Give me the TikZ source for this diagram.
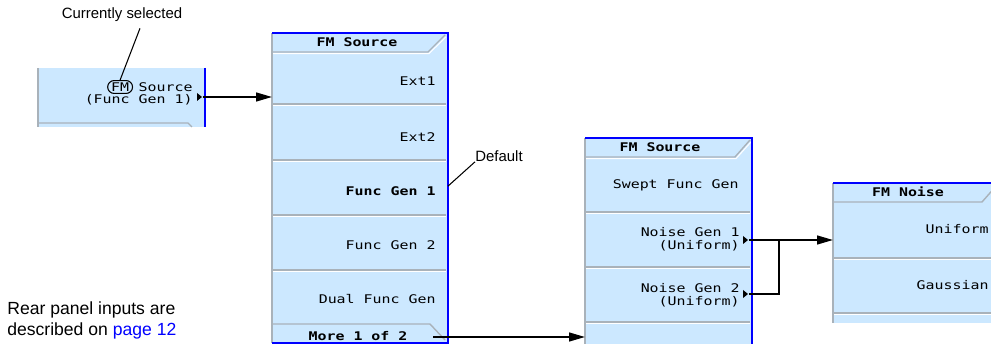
\documentclass[tikz,border=0pt]{standalone}
\usepackage{fontspec}
\setmainfont{Liberation Sans}
\newfontfamily\keyfont[FakeStretch=1.25]{DejaVu Sans Mono}
\usetikzlibrary{arrows.meta,positioning,shapes.misc,fit}
\definecolor{skFill}{HTML}{CCE8FF}
\definecolor{skEdge}{HTML}{0000FF}
\definecolor{skLine}{HTML}{A9B2BA}
\definecolor{skLink}{HTML}{0000FF}
\tikzset{
    % softkey panels
    keypanel/.style={fill=skFill,inner sep=0pt,outer sep=0pt},
    keyedge/.style={draw=skEdge,line width=1.6pt},
    keyrule/.style={draw=skLine,line width=0.8pt},
    keyshine/.style={draw=white,line width=0.6pt},
    keytext/.style={anchor=east,inner sep=0pt,font=\keyfont\fontsize{6.8}{7}\selectfont},
    keytitle/.style={inner sep=0pt,font=\keyfont\bfseries\fontsize{6.8}{7}\selectfont},
    % annotations and connectors
    note/.style={inner sep=0pt,font=\fontsize{8.5}{10}\selectfont},
    link/.style={-{Triangle[length=9pt,width=5pt]},line width=1pt},
    leader/.style={line width=0.6pt}
}

\begin{document}
\begin{tikzpicture}[x=0.02cm,y=-0.02cm]
  \clip (0,0) rectangle (991,344);

  % Current FM source key
  \node[keypanel,fit={(38,68) (205,127)}] (menuA) {};
  \draw[keyrule] (menuA.north west) -- (menuA.south west);
  \draw[keyrule] (39,123) -- (188,123) -- (192,127);
  \draw[keyedge] (menuA.north east) -- (menuA.south east);
  \node[keytext] (srcA) at (193,87) {Source};
  \node[keytext] (genA) at (193,100) {(Func Gen 1)};
  \node[keytext,draw,rounded rectangle,inner xsep=1pt,inner ysep=1.2pt,line width=0.6pt,left=3pt of srcA] (fmA) {FM};
  \fill (197,93) -- (202,97) -- (197,101) -- cycle;
  \coordinate (tipA) at (203,97);

  \node[note] (cursel) at (122,15) {Currently selected};
  \draw[leader] ([xshift=0.36cm,yshift=-0.12cm]cursel.south) -- (fmA.north);

  % FM Source menu, page 1
  \node[keypanel,fit={(272,33) (448,343)}] (menuB) {};
  \draw[keyrule] (menuB.north west) -- (menuB.south west);
  \foreach \y in {104,160,215,270} {
    \draw[keyrule] (273,\y) -- (446,\y);
    \draw[keyshine] (273,\y+1.6) -- (446,\y+1.6);
  }
  \draw[keyrule] (273,52) -- (428,52) -- (445,35);
  \draw[keyshine] (273,53.6) -- (429,53.6) -- (446,37);
  \draw[keyrule] (273,324) -- (430,324) -- (445,340);
  \draw[keyedge] (menuB.north west) -- (menuB.north east) -- (menuB.south east) -- (menuB.south west);
  \node[keytitle] (titleB) at (357,42) {FM Source};
  \node[keytext] (ext1) at (436,81) {Ext1};
  \node[keytext] (ext2) at (436,137) {Ext2};
  \node[keytext,font=\keyfont\bfseries\fontsize{6.8}{7}\selectfont] (fgen1) at (436,191) {Func Gen 1};
  \node[keytext] (fgen2) at (436,245) {Func Gen 2};
  \node[keytext] (dual) at (436,299) {Dual Func Gen};
  \node[keytitle] (moreB) at (358,336) {More 1 of 2};
  \coordinate (moreTail) at (433,337);

  \node[note,anchor=west] (dflt) at (475,156) {Default};
  \draw[leader] (dflt.south west) -- (menuB.east |- fgen1.north);

  % FM Source menu, page 2
  \node[keypanel,fit={(585,138) (752,350)}] (menuC) {};
  \draw[keyrule] (menuC.north west) -- (menuC.south west);
  \foreach \y in {212,267,322} {
    \draw[keyrule] (586,\y) -- (750,\y);
    \draw[keyshine] (586,\y+1.6) -- (750,\y+1.6);
  }
  \draw[keyrule] (586,157) -- (735,157) -- (750,140);
  \draw[keyshine] (586,158.6) -- (736,158.6) -- (751,142);
  \draw[keyedge] (menuC.south east) -- (menuC.north east) -- (menuC.north west);
  \node[keytitle] (titleC) at (660,147) {FM Source};
  \node[keytext] (swept) at (739,185) {Swept Func Gen};
  \node[keytext] (noise1) at (740,232) {Noise Gen 1};
  \node[keytext] (unif1) at (740,246) {(Uniform)};
  \node[keytext] (noise2) at (740,288) {Noise Gen 2};
  \node[keytext] (unif2) at (740,302) {(Uniform)};
  \fill (743,236) -- (748,240) -- (743,244) -- cycle;
  \fill (743,290) -- (748,294) -- (743,298) -- cycle;
  \coordinate (tipC1) at (749,240);
  \coordinate (tipC2) at (749,294);
  \coordinate (joinC) at (779,240);

  % FM Noise menu
  \node[keypanel,fit={(833,183) (1000,323)}] (menuD) {};
  \draw[keyrule] (menuD.north west) -- (menuD.south west);
  \foreach \y in {258,313} {
    \draw[keyrule] (834,\y) -- (1000,\y);
    \draw[keyshine] (834,\y+1.6) -- (1000,\y+1.6);
  }
  \draw[keyrule] (834,202) -- (982,202) -- (997,185);
  \draw[keyedge] (menuD.north west) -- (menuD.north east);
  \node[keytitle] (titleD) at (908,192) {FM Noise};
  \node[keytext] (unif) at (989,229) {Uniform};
  \node[keytext] (gauss) at (989,285) {Gaussian};

  % Connectors
  \draw[link] (tipA) -- (menuB.west |- tipA);
  \draw[link] (moreTail) -- (menuC.west |- moreTail);
  \draw[line width=1pt] (tipC2) -| (joinC);
  \draw[link] (tipC1) -- (menuD.west |- tipC1);

  \node[anchor=west,align=left,inner sep=0pt,font=\fontsize{10}{12}\selectfont] (rear) at (7,320)
    {Rear panel inputs are\\described on \textcolor{skLink}{page 12}};
\end{tikzpicture}
\end{document}
